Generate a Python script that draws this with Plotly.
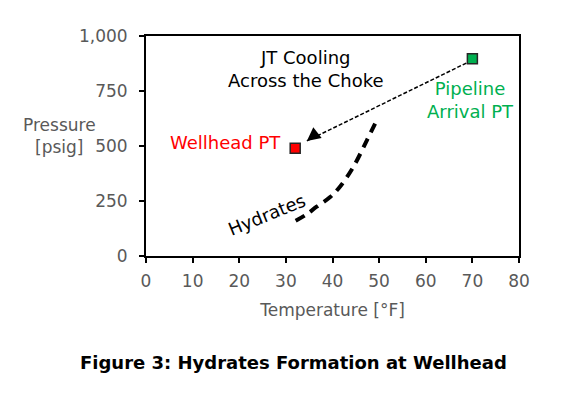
import plotly.graph_objects as go

# Data
wellhead_T = [32]
wellhead_P = [490]
pipeline_T = [70]
pipeline_P = [897]
arrow_T = [68.7, 34.5]
arrow_P = [877, 523]
hydrate_T = [32.1, 34.5, 36.6, 39.5, 41.6, 44.5, 47.4, 49.7]
hydrate_P = [160, 190, 224, 268, 315, 406, 527, 626]
x_ticks = [0, 10, 20, 30, 40, 50, 60, 70, 80]
y_ticks = [0, 250, 500, 750, 1000]
y_ticklabels = ["0", "250", "500", "750", "1,000"]

FONT = "DejaVu Sans"
GRAY = "#595959"
ASZ = 18

fig = go.Figure()

fig.add_trace(go.Scatter(x=hydrate_T, y=hydrate_P, mode="lines",
                         line=dict(color="black", width=4, dash="10px,7px", shape="spline"),
                         hoverinfo="skip", showlegend=False))
fig.add_trace(go.Scatter(x=arrow_T, y=arrow_P, mode="lines",
                         line=dict(color="black", width=1.5, dash="4px,2px"),
                         hoverinfo="skip", showlegend=False))
fig.add_trace(go.Scatter(x=wellhead_T, y=wellhead_P, mode="markers",
                         marker=dict(symbol="square", size=10, color="#FF0000",
                                     line=dict(color="#262626", width=1.5)),
                         showlegend=False))
fig.add_trace(go.Scatter(x=pipeline_T, y=pipeline_P, mode="markers",
                         marker=dict(symbol="square", size=10, color="#00B050",
                                     line=dict(color="#262626", width=1.5)),
                         showlegend=False))

# arrowhead
fig.add_annotation(x=arrow_T[1], y=arrow_P[1], ax=arrow_T[1] + 1.2, ay=arrow_P[1] + 20,
                   axref="x", ayref="y", xref="x", yref="y", text="",
                   showarrow=True, arrowhead=2, arrowsize=1.8, arrowwidth=1.5,
                   arrowcolor="black", standoff=0)

fig.add_annotation(x=34.3, y=852, text="JT Cooling<br>Across the Choke", showarrow=False,
                   font=dict(family=FONT, size=ASZ, color="black"), xref="x", yref="y")
fig.add_annotation(x=29.4, y=518, text="Wellhead PT", showarrow=False, xanchor="right",
                   font=dict(family=FONT, size=ASZ, color="#FF0000"), xref="x", yref="y")
fig.add_annotation(x=69.5, y=709, text="Pipeline<br>Arrival PT", showarrow=False,
                   font=dict(family=FONT, size=ASZ, color="#00B050"), xref="x", yref="y")
fig.add_annotation(x=26.0, y=188, text="Hydrates", showarrow=False, textangle=-22,
                   font=dict(family=FONT, size=ASZ, color="black"), xref="x", yref="y")

fig.add_annotation(x=59, y=136, text="Pressure<br>[psig]", showarrow=False,
                   font=dict(family=FONT, size=17, color=GRAY), xref="paper", yref="paper",
                   xanchor="center", yanchor="middle")

fig.add_annotation(x=293, y=362, text="<b>Figure 3: Hydrates Formation at Wellhead</b>",
                   showarrow=False, font=dict(family=FONT, size=18, color="black"),
                   xanchor="center", yanchor="middle")

# page body has an 8px margin
OFF = 8
L, R, T, B = 146 - OFF, 47, 36 - OFF, 140
W, H = 566 - OFF, 396 - OFF
pw, ph = W - L - R, H - T - B
for a in fig.layout.annotations[-2:]:
    px, py = a.x - OFF, a.y - OFF
    a.xref, a.yref = "paper", "paper"
    a.x = (px - L) / pw
    a.y = (H - B - py) / ph

fig.update_layout(
    width=W, height=H,
    margin=dict(l=L, r=R, t=T, b=B),
    plot_bgcolor="white", paper_bgcolor="white",
    xaxis=dict(range=[0, 80], tickvals=x_ticks, showgrid=False, zeroline=False,
               showline=True, linecolor="black", linewidth=2, mirror=True,
               ticks="outside", ticklen=5, tickwidth=2, tickcolor="black",
               ticklabelstandoff=4,
               tickfont=dict(family=FONT, size=17, color=GRAY),
               title=dict(text="Temperature [°F]", font=dict(family=FONT, size=17, color=GRAY), standoff=14)),
    yaxis=dict(range=[0, 1000], tickvals=y_ticks, ticktext=y_ticklabels, showgrid=False, zeroline=False,
               showline=True, linecolor="black", linewidth=2, mirror=True,
               ticks="outside", ticklen=5, tickwidth=2, tickcolor="black",
               ticklabelstandoff=8,
               tickfont=dict(family=FONT, size=17, color=GRAY)),
)

fig.write_html("out.html")
